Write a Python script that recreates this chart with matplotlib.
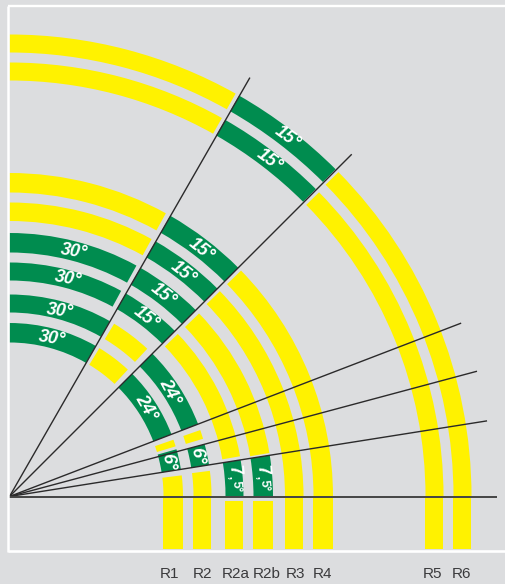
import math

import matplotlib.pyplot as plt
from matplotlib.patches import Wedge

YELLOW = '#fff200'
GREEN = '#008c4f'
GREY = '#dcdddf'

# track radii, inner and outer
track_names = ['R1', 'R2', 'R2a', 'R2b', 'R3', 'R4', 'R5', 'R6']
r_inner = [154, 184, 216, 244, 275.5, 304, 416, 444]
r_outer = [173.5, 202, 234, 263.5, 294, 323.5, 434, 462]
label_x = [170, 203, 236, 267, 296, 323, 433, 462]

# angle ranges of each track piece
yellow_arcs = {
    'R1': [(0, 7), (16.8, 19.1), (47, 58.8)],
    'R2': [(0, 7.3), (16.6, 19.2), (47, 58.8)],
    'R2a': [(9.9, 44)],
    'R2b': [(9.5, 44)],
    'R3': [(0, 44.3), (61.1, 90)],
    'R4': [(0, 44.3), (61.1, 90)],
    'R5': [(0, 44.5), (60.7, 90)],
    'R6': [(0, 44.6), (60.7, 90)],
}
green_arcs = {
    'R1': [(9, 15.8), (21, 45), (60.2, 90)],
    'R2': [(9, 15), (21, 45), (60.2, 90)],
    'R2a': [(0, 9), (45, 60.2), (61.5, 90)],
    'R2b': [(0, 9), (45, 60.2), (61.2, 90)],
    'R3': [(45, 60.2)],
    'R4': [(45, 60.2)],
    'R5': [(45.1, 60.2)],
    'R6': [(45.1, 60.2)],
}
# where the straight part below the base line starts
straight_top = [0, 0, -4.8, -4.8, 0, 0, 0, 0]
straight_bottom = -52.5

ray_angles = [9, 15, 21, 45, 60.15]
ray_lengths = [483.5, 484, 483.8, 484, 483]
base_length = 488

# angle labels: text, x, y, rotation
deg_text = ['30°', '30°', '30°', '30°',
            '15°', '15°', '15°', '15°', '15°', '15°',
            '24°', '24°', '6°', '6°']
deg_x = [65, 58.5, 50.5, 42.8,
         136.5, 153.5, 173.5, 191.5, 277.5, 260,
         136, 160, 158.8, 187.8]
deg_y = [244.5, 218, 185, 157.7,
         179, 202, 224, 247, 359, 336,
         88.5, 105, 34.2, 40.5]
deg_rot = [-9, -10, -7, -9,
           -38, -38, -38, -38, -36, -36,
           -60, -62, -82, -82]

# the 7,5° labels are set in two sizes
seven_x = [224.5, 252.8]
seven_y = [27, 27]
small_x = [227, 255]
small_y = [10, 10.5]

plt.rcParams['font.family'] = ['Liberation Sans', 'DejaVu Sans']

fig = plt.figure(figsize=(5.06, 5.84), dpi=100, facecolor=GREY)
ax = fig.add_axes([0, 0, 1, 1])
ax.set_xlim(-9.5, 496.5)
ax.set_ylim(-87.5, 496.5)
ax.axis('off')

for i, name in enumerate(track_names):
    width = r_outer[i] - r_inner[i]
    for a, b in yellow_arcs[name]:
        ax.add_patch(Wedge((0, 0), r_outer[i], a, b, width=width, fc=YELLOW, lw=0))
    for a, b in green_arcs[name]:
        ax.add_patch(Wedge((0, 0), r_outer[i], a, b, width=width, fc=GREEN, lw=0))
    ax.bar(r_inner[i], straight_bottom - straight_top[i], width=width, bottom=straight_top[i],
           align='edge', color=YELLOW, lw=0)
    ax.text(label_x[i] - 9.5, -77.5, name, ha='center', va='center', fontsize=11,
            color='#3a3a3c')

for ang, length in zip(ray_angles, ray_lengths):
    t = math.radians(ang)
    ax.plot([0, length * math.cos(t)], [0, length * math.sin(t)], color='#2b2a2b', lw=1.0,
            solid_capstyle='butt')
ax.plot([0, base_length], [0, 0], color='#444444', lw=1.4, solid_capstyle='butt')

for s, x, y, rot in zip(deg_text, deg_x, deg_y, deg_rot):
    ax.text(x, y, s, color='white', fontsize=13, fontweight='bold', style='italic',
            rotation=rot, rotation_mode='anchor', ha='center', va='center')

for x, y in zip(seven_x, seven_y):
    ax.text(x, y, '7', color='white', fontsize=13, fontweight='bold',
            rotation=-85, rotation_mode='anchor', ha='center', va='center')
for x, y in zip(small_x, small_y):
    ax.text(x, y, '5°', color='white', fontsize=9, fontweight='bold',
            rotation=-85, rotation_mode='anchor', ha='center', va='center')
    ax.text(x - 5.5, y + 9, ',', color='white', fontsize=9, fontweight='bold',
            rotation=-85, rotation_mode='anchor', ha='center', va='center')

# white frame, open on the right
ax.plot([-1.5, 496.5], [490.3, 490.3], color='white', lw=1.7, solid_capstyle='butt')
ax.plot([-1.5, 496.5], [-54.2, -54.2], color='white', lw=1.9, solid_capstyle='butt')
ax.plot([-1.5, -1.5], [-55, 491], color='white', lw=1.8, solid_capstyle='butt')

fig.savefig('out.png', dpi=100, facecolor=GREY)
